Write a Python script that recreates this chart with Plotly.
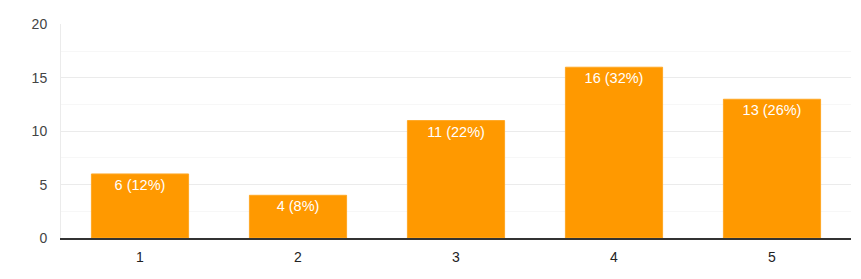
import plotly.graph_objects as go

categories = ["1", "2", "3", "4", "5"]
counts = [6, 4, 11, 16, 13]
percents = [12, 8, 22, 32, 26]
y_ticks = [0, 5, 10, 15, 20]

labels = [f"{c} ({p}%)" for c, p in zip(counts, percents)]

fig = go.Figure(go.Bar(
    x=categories, y=counts, text=labels,
    textposition="inside", insidetextanchor="end",
    textfont=dict(color="white", size=14.5, family="Liberation Sans, Arial"),
    marker=dict(color="#ff9900", line=dict(color="#ffa824", width=1)),
    cliponaxis=False,
))
fig.update_layout(
    width=861, height=279,
    margin=dict(l=61, r=10, t=24, b=41),
    plot_bgcolor="white", paper_bgcolor="white",
    bargap=0.385, showlegend=False,
    font=dict(family="Liberation Sans, Arial", size=14, color="#444"),
)
fig.update_xaxes(
    type="category", showgrid=False, showline=True, linecolor="#333", linewidth=1.5,
    tickfont=dict(color="#222", size=14), ticks="outside", ticklen=5, tickcolor="rgba(0,0,0,0)",
)
fig.update_yaxes(
    range=[0, 20.05], tickvals=y_ticks, showgrid=True, gridcolor="#ebebeb", gridwidth=1,
    showline=True, linecolor="#ebebeb", linewidth=1, zeroline=False,
    ticks="outside", ticklen=10, tickcolor="rgba(0,0,0,0)",
    minor=dict(tickvals=[2.5, 7.5, 12.5, 17.5], showgrid=True, gridcolor="#f7f7f7", ticks=""),
    tickfont=dict(color="#444", size=14),
)
fig.write_html("out.html")
